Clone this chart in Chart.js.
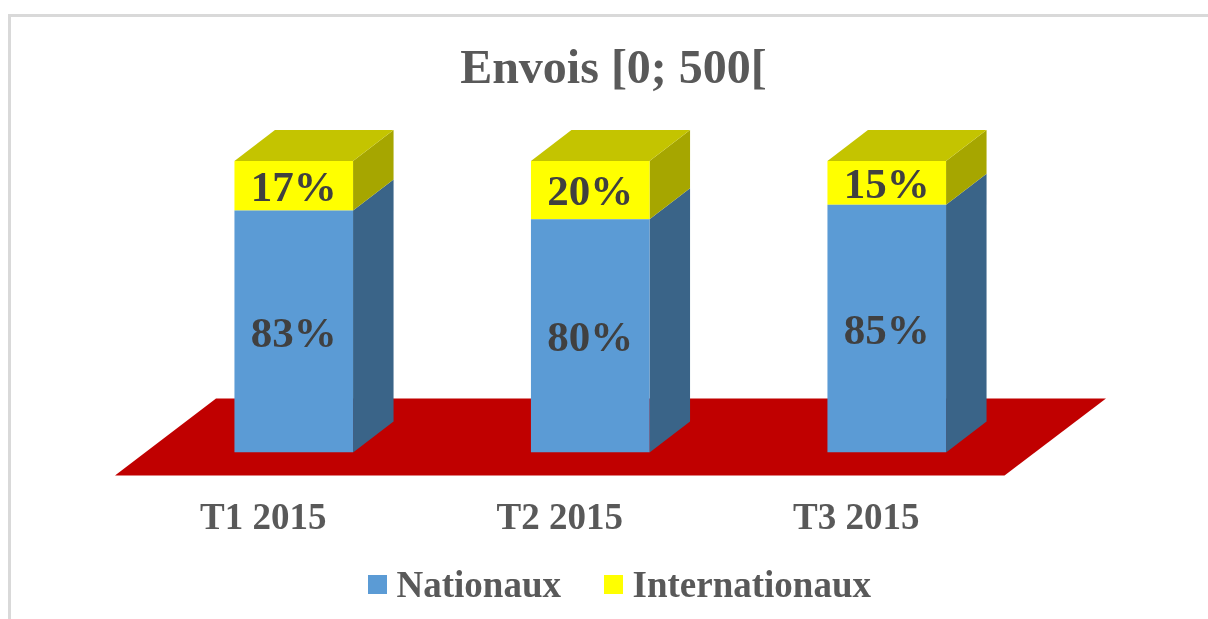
<!DOCTYPE html>
<html>
<head>
<meta charset="utf-8">
<title>Envois [0; 500[</title>
<script src="https://cdn.jsdelivr.net/npm/chart.js@4"></script>
<style>
  html, body { margin: 0; background: #fff; overflow: hidden; }
  #frame { position: absolute; left: 8px; top: 14px; width: 1300px; height: 700px; border: 3px solid #d9d9d9; box-sizing: border-box; pointer-events: none; }
  canvas { position: absolute; left: 0; top: 0; }
</style>
</head>
<body>
<canvas id="envois" width="1208" height="619"></canvas>
<div id="frame"></div>
<script>
const categories = ['T1 2015', 'T2 2015', 'T3 2015'];
const nationaux = [83, 80, 85];
const internationaux = [17, 20, 15];

const serif = '"Liberation Serif", "Times New Roman", serif';
const grey = '#595959';
const depthX = 40.5;
const depthY = 31;

function poly(ctx, pts, color) {
    ctx.fillStyle = color;
    ctx.beginPath();
    pts.forEach((p, i) => i ? ctx.lineTo(p[0], p[1]) : ctx.moveTo(p[0], p[1]));
    ctx.closePath();
    ctx.fill();
}

// Red floor plus the side and top faces of the columns
const box3d = {
    id: 'box3d',
    afterLayout(chart) {
        // title is centred on the whole frame, not on the plot
        chart.titleBlock.left = 19;
        chart.titleBlock.right = 1208;
    },
    beforeDatasetsDraw(chart) {
        const ctx = chart.ctx;
        const a = chart.chartArea;
        poly(ctx, [
            [a.left - 30.5, a.bottom + 23],
            [a.right - 30.5, a.bottom + 23],
            [a.right + 71, a.bottom - 54],
            [a.left + 70.5, a.bottom - 54]
        ], '#c00000');
        const sides = ['#3a6488', '#a6a600'];
        chart.data.datasets.forEach((ds, d) => {
            chart.getDatasetMeta(d).data.forEach(bar => {
                const r = bar.x + bar.width / 2;
                poly(ctx, [
                    [r, bar.y],
                    [r + depthX, bar.y - depthY],
                    [r + depthX, bar.base - depthY],
                    [r, bar.base]
                ], sides[d]);
            });
        });
        chart.getDatasetMeta(chart.data.datasets.length - 1).data.forEach(bar => {
            const l = bar.x - bar.width / 2;
            const r = bar.x + bar.width / 2;
            poly(ctx, [
                [l, bar.y],
                [l + depthX, bar.y - depthY],
                [r + depthX, bar.y - depthY],
                [r, bar.y]
            ], '#c4c400');
        });
    },
    afterDatasetsDraw(chart) {
        const ctx = chart.ctx;
        ctx.save();
        ctx.font = 'bold 43px ' + serif;
        ctx.fillStyle = '#404040';
        ctx.textAlign = 'center';
        ctx.textBaseline = 'middle';
        chart.data.datasets.forEach((ds, d) => {
            chart.getDatasetMeta(d).data.forEach((bar, i) => {
                ctx.fillText(ds.data[i] + '%', bar.x, (bar.y + bar.base) / 2 + 4);
            });
        });
        ctx.restore();
    }
};

// Legend row, the built-in one cannot get this tight
const legendRow = {
    id: 'legendRow',
    afterDraw(chart) {
        const ctx = chart.ctx;
        const starts = [368, 604];
        ctx.save();
        ctx.font = 'bold 37px ' + serif;
        ctx.textBaseline = 'middle';
        chart.data.datasets.forEach((ds, d) => {
            ctx.fillStyle = ds.backgroundColor;
            ctx.fillRect(starts[d], 575, 19, 19);
            ctx.fillStyle = grey;
            ctx.fillText(ds.label, starts[d] + 28.5, 587);
        });
        ctx.restore();
    }
};

new Chart(document.getElementById('envois'), {
    type: 'bar',
    data: {
        labels: categories,
        datasets: [
            { label: 'Nationaux', data: nationaux, backgroundColor: '#5b9bd5' },
            { label: 'Internationaux', data: internationaux, backgroundColor: '#ffff00' }
        ]
    },
    plugins: [box3d, legendRow],
    options: {
        responsive: false,
        animation: false,
        layout: { padding: { left: 145.5, right: 173, top: 0, bottom: 40 } },
        datasets: { bar: { categoryPercentage: 1, barPercentage: 0.4 } },
        scales: {
            x: {
                stacked: true,
                grid: { display: false },
                border: { display: false },
                ticks: {
                    color: grey,
                    font: { family: serif, size: 37, weight: 'bold' },
                    labelOffset: -30.5,
                    maxRotation: 0,
                    padding: 37
                }
            },
            y: { stacked: true, display: false, min: 0, max: 100 }
        },
        plugins: {
            legend: { display: false },
            tooltip: { enabled: false },
            title: {
                display: true,
                text: 'Envois [0; 500[',
                color: grey,
                font: { family: serif, size: 48, weight: 'bold', lineHeight: 1.2 },
                padding: { top: 42, bottom: 61.4 }
            }
        }
    }
});
</script>
</body>
</html>
